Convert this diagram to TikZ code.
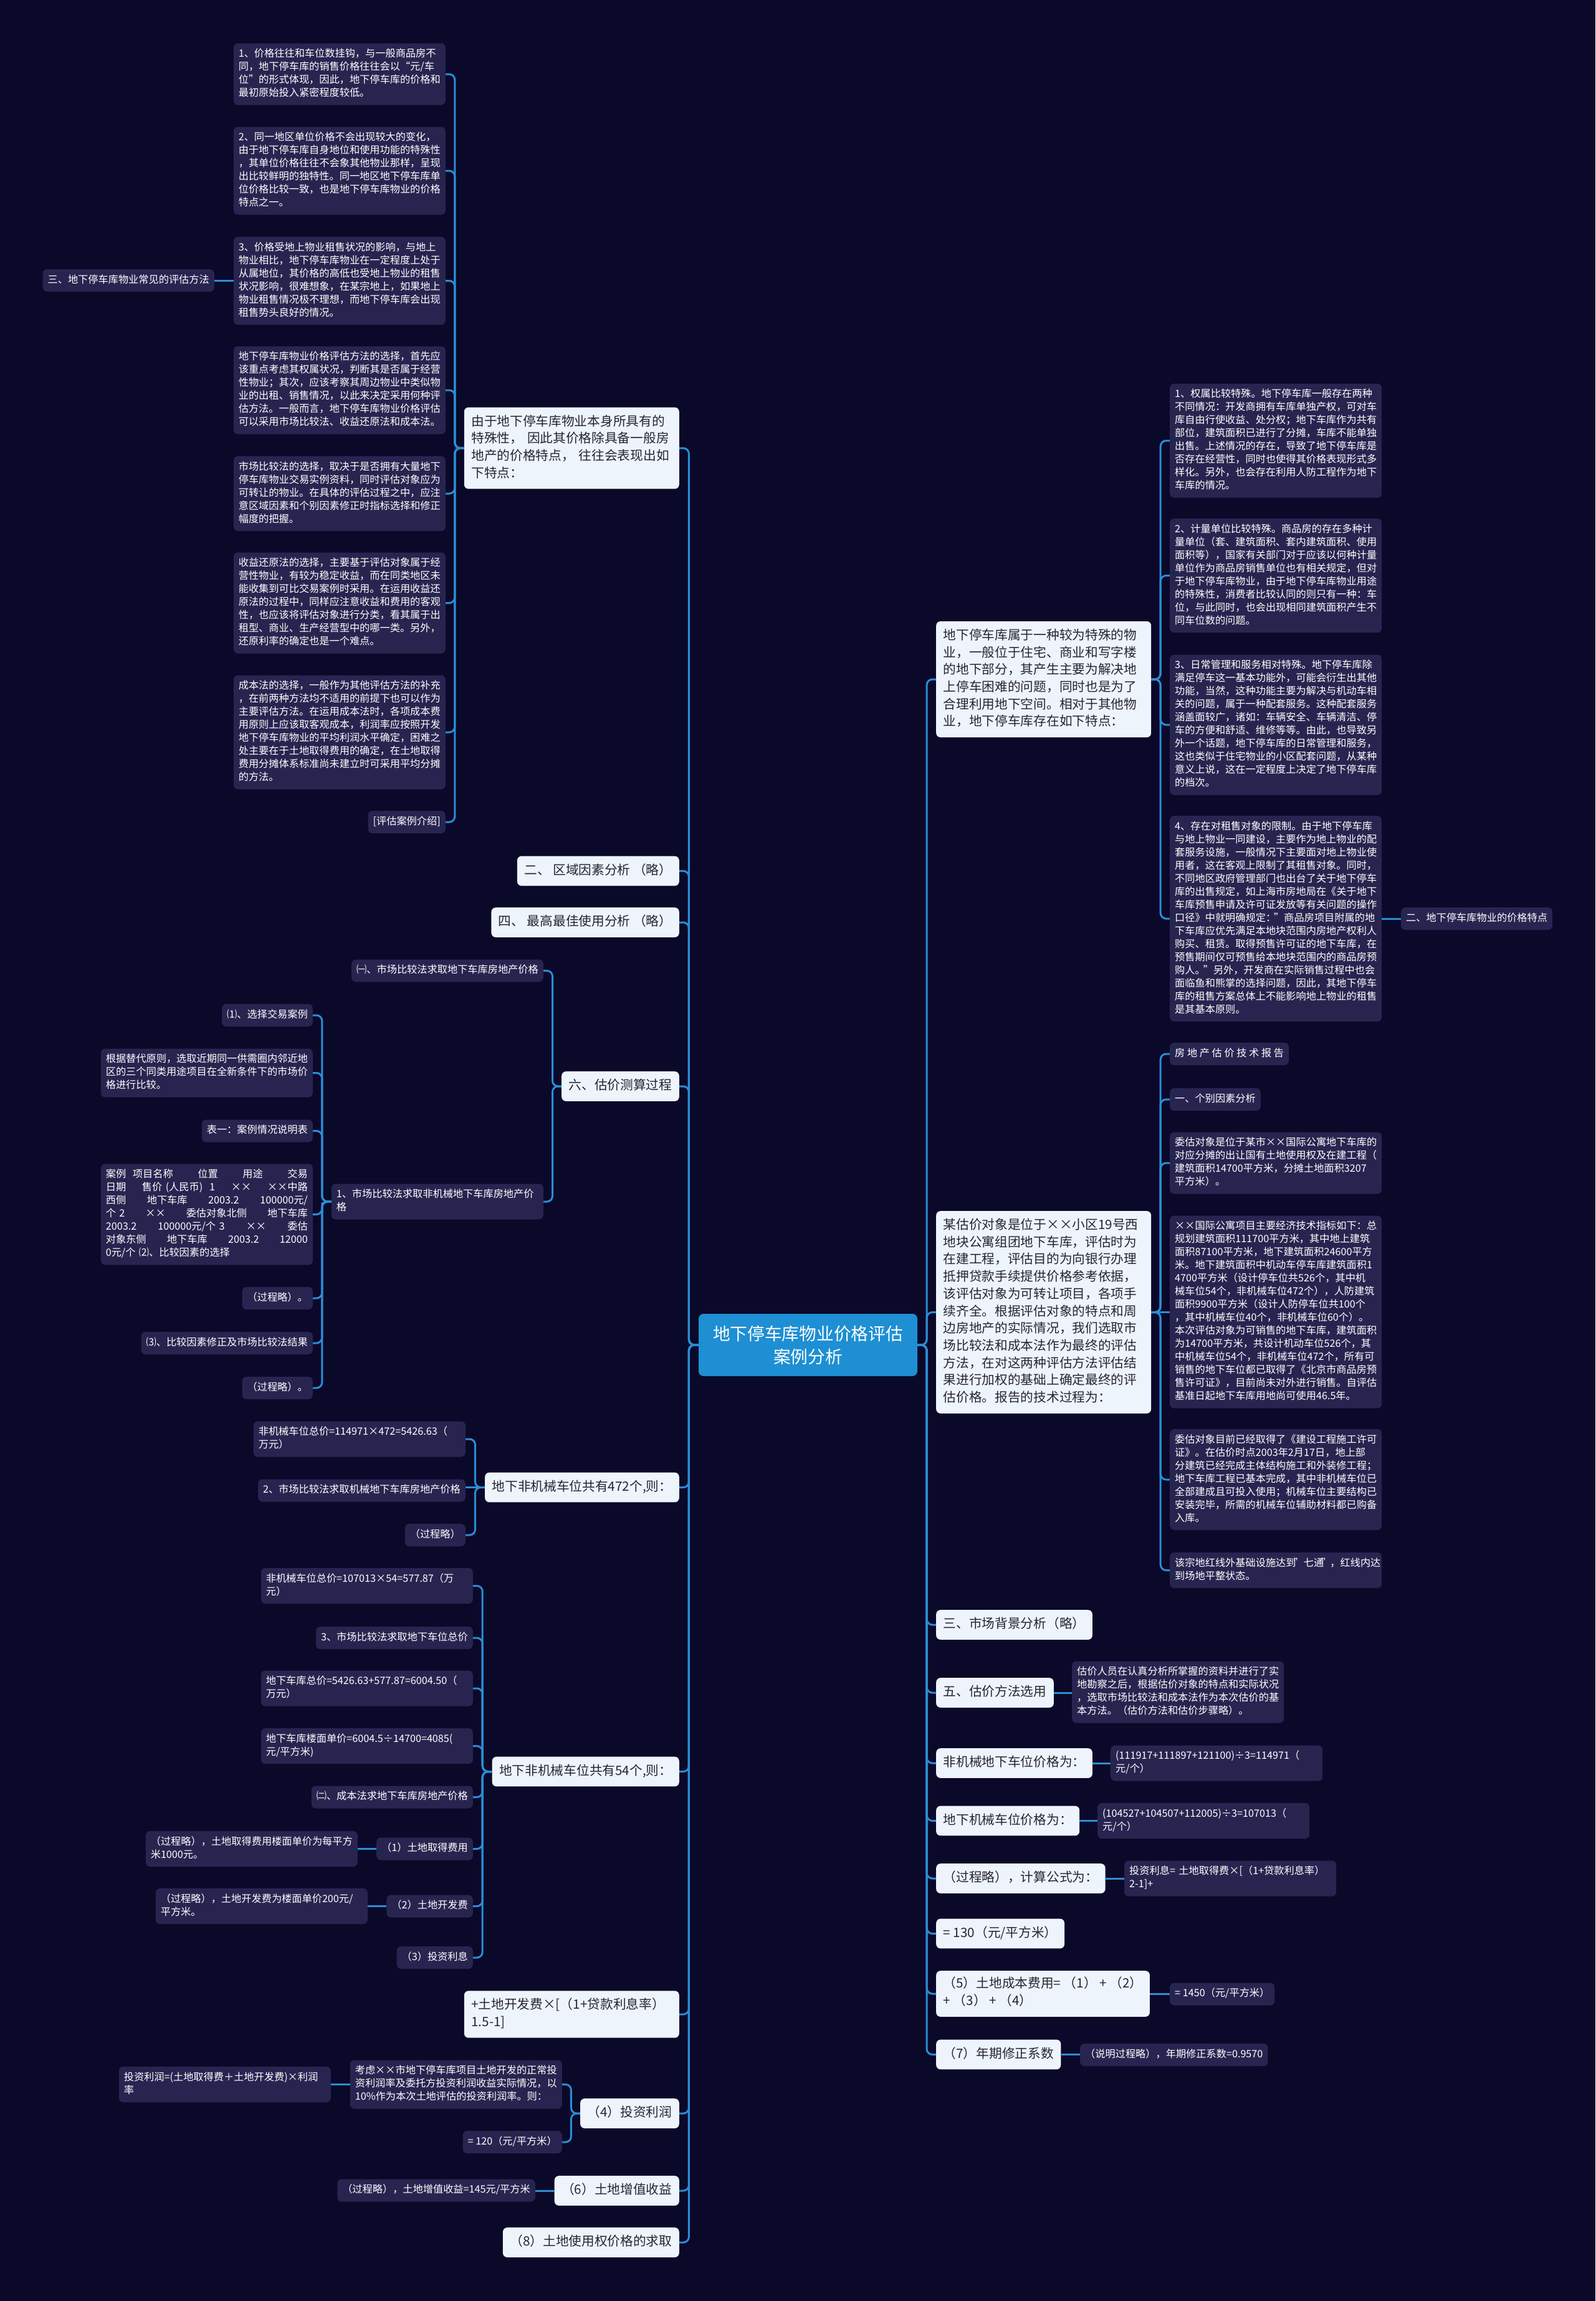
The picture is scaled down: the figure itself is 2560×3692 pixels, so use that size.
\documentclass[tikz,border=0pt]{standalone}
\usepackage{fontspec}
\setmainfont{Noto Sans CJK SC}
\usetikzlibrary{calc}
\definecolor{bg}{HTML}{0B0929}
\definecolor{darkbox}{HTML}{272550}
\definecolor{lightbox}{HTML}{EEF4FB}
\definecolor{lighttext}{HTML}{26262F}
\definecolor{rootc}{HTML}{1E8FD3}
\definecolor{linec}{HTML}{2B8DD6}
\newcommand\fsm{\fontsize{16.2pt}{21pt}\selectfont}
\newcommand\flt{\fontsize{20.7pt}{27.7pt}\selectfont}
\newcommand\frt{\fontsize{27.7pt}{37pt}\selectfont}
\newcommand\elb[2]{\draw[conn] (#1) -| ($(#1)!0.5!(#2)$) |- (#2);}
\tikzset{
  basebox/.style={rounded corners=7pt, execute at begin node=\strut, execute at end node=\strut},
  dk/.style={basebox, fill=darkbox, text=white, font=\fsm, inner xsep=8pt, inner ysep=7.5pt, align=left},
  dkw/.style={dk, text width=324pt},
  lt/.style={basebox, fill=lightbox, text=lighttext, font=\flt, inner xsep=11.5pt, inner ysep=10pt, align=left},
  ltw/.style={lt, text width=322pt},
  rootst/.style={fill=rootc, text=white, font=\frt, align=center, minimum width=351pt, minimum height=100pt, rounded corners=8pt, inner sep=0pt},
  conn/.style={draw=linec, line width=3pt, rounded corners=9pt}
}
\begin{document}
\begin{tikzpicture}[x=1pt,y=-1pt]
\fill[bg] (0,0) rectangle (2560,3692);

% root
\node[rootst] (root) at (1296.5,2158) {地下停车库物业价格评估\\案例分析};

% ---------- left level 1 ----------
\node[ltw,anchor=east] (A) at (1090,719) {由于地下停车库物业本身所具有的\\特殊性， 因此其价格除具备一般房\\地产的价格特点， 往往会表现出如\\下特点：};
\node[lt,anchor=east] (B) at (1090,1397.5) {二、 区域因素分析 （略）};
\node[lt,anchor=east] (C) at (1090,1480) {四、 最高最佳使用分析 （略）};
\node[lt,anchor=east] (D) at (1090,1743) {六、估价测算过程};
\node[lt,anchor=east] (E) at (1090,2386.5) {地下非机械车位共有472个,则：};
\node[lt,anchor=east] (F) at (1090,2842.5) {地下非机械车位共有54个,则：};
\node[ltw,anchor=east] (G) at (1090,3232) {+土地开发费×[（1+贷款利息率）\\1.5-1]};
\node[lt,anchor=east] (H) at (1090,3391) {（4）投资利润};
\node[lt,anchor=east] (I) at (1090,3515) {（6）土地增值收益};
\node[lt,anchor=east] (J) at (1090,3598) {（8）土地使用权价格的求取};

% ---------- A children ----------
\node[dkw,anchor=east] (A1) at (715,119) {1、价格往往和车位数挂钩，与一般商品房不\\同，地下停车库的销售价格往往会以“元/车\\位”的形式体现，因此，地下停车库的价格和\\最初原始投入紧密程度较低。};
\node[dkw,anchor=east] (A2) at (715,274) {2、同一地区单位价格不会出现较大的变化，\\由于地下停车库自身地位和使用功能的特殊性\\，其单位价格往往不会象其他物业那样，呈现\\出比较鲜明的独特性。同一地区地下停车库单\\位价格比较一致，也是地下停车库物业的价格\\特点之一。};
\node[dkw,anchor=east] (A3) at (715,450.5) {3、价格受地上物业租售状况的影响，与地上\\物业相比，地下停车库物业在一定程度上处于\\从属地位，其价格的高低也受地上物业的租售\\状况影响，很难想象，在某宗地上，如果地上\\物业租售情况极不理想，而地下停车库会出现\\租售势头良好的情况。};
\node[dkw,anchor=east] (A4) at (715,626) {地下停车库物业价格评估方法的选择，首先应\\该重点考虑其权属状况，判断其是否属于经营\\性物业；其次，应该考察其周边物业中类似物\\业的出租、销售情况，以此来决定采用何种评\\估方法。一般而言，地下停车库物业价格评估\\可以采用市场比较法、收益还原法和成本法。};
\node[dkw,anchor=east] (A5) at (715,792) {市场比较法的选择，取决于是否拥有大量地下\\停车库物业交易实例资料，同时评估对象应为\\可转让的物业。在具体的评估过程之中，应注\\意区域因素和个别因素修正时指标选择和修正\\幅度的把握。};
\node[dkw,anchor=east] (A6) at (715,967.5) {收益还原法的选择，主要基于评估对象属于经\\营性物业，有较为稳定收益，而在同类地区未\\能收集到可比交易案例时采用。在运用收益还\\原法的过程中，同样应注意收益和费用的客观\\性，也应该将评估对象进行分类，看其属于出\\租型、商业、生产经营型中的哪一类。另外，\\还原利率的确定也是一个难点。};
\node[dkw,anchor=east] (A7) at (715,1175) {成本法的选择，一般作为其他评估方法的补充\\，在前两种方法均不适用的前提下也可以作为\\主要评估方法。在运用成本法时，各项成本费\\用原则上应该取客观成本，利润率应按照开发\\地下停车库物业的平均利润水平确定，困难之\\处主要在于土地取得费用的确定，在土地取得\\费用分摊体系标准尚未建立时可采用平均分摊\\的方法。};
\node[dk,anchor=east] (A8) at (715,1319) {[评估案例介绍]};
\node[dk,anchor=east] (L3) at (344,450) {三、地下停车库物业常见的评估方法};

% ---------- D children ----------
\node[dk,anchor=east] (D1) at (872,1557.5) {㈠、市场比较法求取地下车库房地产价格};
\node[dkw,anchor=east] (D2) at (872,1928) {1、市场比较法求取非机械地下车库房地产价\\格};
\node[dk,anchor=east] (Da) at (502,1629) {⑴、选择交易案例};
\node[dkw,anchor=east] (Db) at (502,1721.5) {根据替代原则，选取近期同一供需圈内邻近地\\区的三个同类用途项目在全新条件下的市场价\\格进行比较。};
\node[dk,anchor=east] (Dc) at (502,1814.5) {表一：案例情况说明表};
\node[dkw,anchor=east] (Dd) at (502,1948.5) {案例\ \ 项目名称\hfill 位置\hfill 用途\hfill 交易\\日期\hfill 售价 (人民币)\ \ 1\hfill ××\hfill ××中路\\西侧\hfill 地下车库\hfill 2003.2\hfill 100000元/\\个 2\hfill ××\hfill 委估对象北侧\hfill 地下车库\hspace*{30pt}\\2003.2\hfill 100000元/个 3\hfill ××\hfill 委估\\对象东侧\hfill 地下车库\hfill 2003.2\hfill 12000\\0元/个 ⑵、比较因素的选择};
\node[dk,anchor=east] (De) at (502,2083) {（过程略）。};
\node[dk,anchor=east] (Df) at (502,2155) {⑶、比较因素修正及市场比较法结果};
\node[dk,anchor=east] (Dg) at (502,2227) {（过程略）。};

% ---------- E children ----------
\node[dkw,anchor=east] (E1) at (747,2309) {非机械车位总价=114971×472=5426.63（\\万元）};
\node[dk,anchor=east] (E2) at (747,2391.5) {2、市场比较法求取机械地下车库房地产价格};
\node[dk,anchor=east] (E3) at (747,2463) {（过程略）};

% ---------- F children ----------
\node[dkw,anchor=east] (F1) at (759,2544.5) {非机械车位总价=107013×54=577.87（万\\元）};
\node[dk,anchor=east] (F2) at (759,2628) {3、市场比较法求取地下车位总价};
\node[dkw,anchor=east] (F3) at (759,2709) {地下车库总价=5426.63+577.87=6004.50（\\万元）};
\node[dkw,anchor=east] (F4) at (759,2801.5) {地下车库楼面单价=6004.5÷14700=4085(\\元/平方米)};
\node[dk,anchor=east] (F5) at (759,2883.5) {㈡、成本法求地下车库房地产价格};
\node[dk,anchor=east] (F6) at (759,2966.5) {（1）土地取得费用};
\node[dk,anchor=east] (F7) at (759,3058.5) {（2）土地开发费};
\node[dk,anchor=east] (F8) at (759,3141) {（3）投资利息};
\node[dkw,anchor=east] (F6c) at (574,2966.5) {（过程略），土地取得费用楼面单价为每平方\\米1000元。};
\node[dkw,anchor=east] (F7c) at (590,3058.5) {（过程略），土地开发费为楼面单价200元/\\平方米。};

% ---------- H, I children ----------
\node[dkw,anchor=east] (H1) at (902,3344.5) {考虑××市地下停车库项目土地开发的正常投\\资利润率及委托方投资利润收益实际情况，以\\10\%作为本次土地评估的投资利润率。则：};
\node[dk,anchor=east] (H2) at (902,3437) {= 120（元/平方米）};
\node[dkw,anchor=east] (H1c) at (531,3344.5) {投资利润=(土地取得费＋土地开发费)×利润\\率};
\node[dk,anchor=east] (I1) at (859,3514.5) {（过程略），土地增值收益=145元/平方米};

% ---------- right level 1 ----------
\node[ltw,anchor=west] (R1) at (1502,1090) {地下停车库属于一种较为特殊的物\\业，一般位于住宅、商业和写字楼\\的地下部分，其产生主要为解决地\\上停车困难的问题，同时也是为了\\合理利用地下空间。相对于其他物\\业，地下停车库存在如下特点：};
\node[ltw,anchor=west] (R2) at (1502,2105.5) {某估价对象是位于××小区19号西\\地块公寓组团地下车库，评估时为\\在建工程，评估目的为向银行办理\\抵押贷款手续提供价格参考依据，\\该评估对象为可转让项目，各项手\\续齐全。根据评估对象的特点和周\\边房地产的实际情况，我们选取市\\场比较法和成本法作为最终的评估\\方法，在对这两种评估方法评估结\\果进行加权的基础上确定最终的评\\估价格。报告的技术过程为：};
\node[lt,anchor=west] (R3) at (1502,2607) {三、市场背景分析（略）};
\node[lt,anchor=west] (R4) at (1502,2716) {五、估价方法选用};
\node[lt,anchor=west] (R5) at (1502,2829) {非机械地下车位价格为：};
\node[lt,anchor=west] (R6) at (1502,2921.5) {地下机械车位价格为：};
\node[lt,anchor=west] (R7) at (1502,3014) {（过程略），计算公式为：};
\node[lt,anchor=west] (R8) at (1502,3102.5) {= 130（元/平方米）};
\node[lt,anchor=west] (R9) at (1502,3199) {（5）土地成本费用= （1） + （2）\\+ （3） + （4）};
\node[lt,anchor=west] (R10) at (1502,3296.5) {（7）年期修正系数};

% ---------- R1 children ----------
\node[dkw,anchor=west] (R1a) at (1877,707) {1、权属比较特殊。地下停车库一般存在两种\\不同情况：开发商拥有车库单独产权，可对车\\库自由行使收益、处分权；地下车库作为共有\\部位，建筑面积已进行了分摊，车库不能单独\\出售。上述情况的存在，导致了地下停车库是\\否存在经营性，同时也使得其价格表现形式多\\样化。另外，也会存在利用人防工程作为地下\\车库的情况。};
\node[dkw,anchor=west] (R1b) at (1877,923.5) {2、计量单位比较特殊。商品房的存在多种计\\量单位（套、建筑面积、套内建筑面积、使用\\面积等），国家有关部门对于应该以何种计量\\单位作为商品房销售单位也有相关规定，但对\\于地下停车库物业，由于地下停车库物业用途\\的特殊性，消费者比较认同的则只有一种：车\\位，与此同时，也会出现相同建筑面积产生不\\同车位数的问题。};
\node[dkw,anchor=west] (R1c) at (1877,1163) {3、日常管理和服务相对特殊。地下停车库除\\满足停车这一基本功能外，可能会衍生出其他\\功能，当然，这种功能主要为解决与机动车相\\关的问题，属于一种配套服务。这种配套服务\\涵盖面较广，诸如：车辆安全、车辆清洁、停\\车的方便和舒适、维修等等。由此，也导致另\\外一个话题，地下停车库的日常管理和服务，\\这也类似于住宅物业的小区配套问题，从某种\\意义上说，这在一定程度上决定了地下停车库\\的档次。};
\node[dkw,anchor=west] (R1d) at (1877,1474) {4、存在对租售对象的限制。由于地下停车库\\与地上物业一同建设，主要作为地上物业的配\\套服务设施，一般情况下主要面对地上物业使\\用者，这在客观上限制了其租售对象。同时，\\不同地区政府管理部门也出台了关于地下停车\\库的出售规定，如上海市房地局在《关于地下\\车库预售申请及许可证发放等有关问题的操作\\口径》中就明确规定：\kern-3pt"商品房项目附属的地\\下车库应优先满足本地块范围内房地产权利人\\购买、租赁。取得预售许可证的地下车库，在\\预售期间仅可预售给本地块范围内的商品房预\\购人。\kern-3pt"另外，开发商在实际销售过程中也会\\面临鱼和熊掌的选择问题，因此，其地下停车\\库的租售方案总体上不能影响地上物业的租售\\是其基本原则。};
\node[dk,anchor=west] (P2) at (2248,1474) {二、地下停车库物业的价格特点};

% ---------- R2 children ----------
\node[dk,anchor=west] (R2a) at (1877,1691) {房 地 产 估 价 技 术 报 告};
\node[dk,anchor=west] (R2b) at (1877,1764) {一、个别因素分析};
\node[dkw,anchor=west] (R2c) at (1877,1866) {委估对象是位于某市××国际公寓地下车库的\\对应分摊的出让国有土地使用权及在建工程（\\建筑面积14700平方米，分摊土地面积3207\\平方米）。};
\node[dkw,anchor=west] (R2d) at (1877,2105) {××国际公寓项目主要经济技术指标如下：总\\规划建筑面积111700平方米，其中地上建筑\\面积87100平方米，地下建筑面积24600平方\\米。地下建筑面积中机动车停车库建筑面积1\\4700平方米（设计停车位共526个，其中机\\械车位54个，非机械车位472个），人防建筑\\面积9900平方米（设计人防停车位共100个\\，其中机械车位40个，非机械车位60个）。\\本次评估对象为可销售的地下车库，建筑面积\\为14700平方米，共设计机动车位526个，其\\中机械车位54个，非机械车位472个，所有可\\销售的地下车位都已取得了《北京市商品房预\\售许可证》，目前尚未对外进行销售。自评估\\基准日起地下车库用地尚可使用46.5年。};
\node[dkw,anchor=west] (R2e) at (1877,2374) {委估对象目前已经取得了《建设工程施工许可\\证》。在估价时点2003年2月17日，地上部\\分建筑已经完成主体结构施工和外装修工程；\\地下车库工程已基本完成，其中非机械车位已\\全部建成且可投入使用；机械车位主要结构已\\安装完毕，所需的机械车位辅助材料都已购备\\入库。};
\node[dkw,anchor=west] (R2f) at (1877,2519.5) {该宗地红线外基础设施达到\kern-4pt"七通\kern-4pt"\kern-2pt，红线内达\\到场地平整状态。};

% ---------- other right children ----------
\node[dkw,anchor=west] (R4c) at (1720,2715) {估价人员在认真分析所掌握的资料并进行了实\\地勘察之后，根据估价对象的特点和实际状况\\，选取市场比较法和成本法作为本次估价的基\\本方法。（估价方法和估价步骤略）。};
\node[dkw,anchor=west] (R5c) at (1782,2829) {(111917+111897+121100)÷3=114971（\\元/个）};
\node[dkw,anchor=west] (R6c) at (1761,2921.5) {(104527+104507+112005)÷3=107013（\\元/个）};
\node[dkw,anchor=west] (R7c) at (1804,3014) {投资利息= 土地取得费×[（1+贷款利息率）\\2-1]+};
\node[dk,anchor=west] (R9c) at (1877,3199.5) {= 1450（元/平方米）};
\node[dk,anchor=west] (R10c) at (1733,3297) {（说明过程略），年期修正系数=0.9570};

% ---------- connectors ----------
\foreach \n in {A,B,C,D,E,F,G,H,I,J} {\elb{root.west}{\n.east}}
\foreach \n in {R1,R2,R3,R4,R5,R6,R7,R8,R9,R10} {\elb{root.east}{\n.west}}
\foreach \n in {A1,A2,A3,A4,A5,A6,A7,A8} {\elb{A.west}{\n.east}}
\draw[conn] (A3.west) -- (A3.west -| L3.east);
\foreach \n in {D1,D2} {\elb{D.west}{\n.east}}
\foreach \n in {Da,Db,Dc,Dd,De,Df,Dg} {\elb{D2.west}{\n.east}}
\foreach \n in {E1,E3} {\elb{E.west}{\n.east}}
\draw[conn] (E.west) -- (E.west -| E2.east);
\foreach \n in {F1,F2,F3,F4,F5,F6,F7,F8} {\elb{F.west}{\n.east}}
\draw[conn] (F6.west) -- (F6.west -| F6c.east);
\draw[conn] (F7.west) -- (F7.west -| F7c.east);
\foreach \n in {H1,H2} {\elb{H.west}{\n.east}}
\draw[conn] (H1.west) -- (H1.west -| H1c.east);
\draw[conn] (I.west) -- (I.west -| I1.east);
\foreach \n in {R1a,R1b,R1c,R1d} {\elb{R1.east}{\n.west}}
\draw[conn] (R1d.east) -- (R1d.east -| P2.west);
\foreach \n in {R2a,R2b,R2c,R2e,R2f} {\elb{R2.east}{\n.west}}
\draw[conn] (R2.east) -- (R2.east -| R2d.west);
\draw[conn] (R4.east) -- (R4.east -| R4c.west);
\draw[conn] (R5.east) -- (R5.east -| R5c.west);
\draw[conn] (R6.east) -- (R6.east -| R6c.west);
\draw[conn] (R7.east) -- (R7.east -| R7c.west);
\draw[conn] (R9.east) -- (R9.east -| R9c.west);
\draw[conn] (R10.east) -- (R10.east -| R10c.west);
\end{tikzpicture}
\end{document}
